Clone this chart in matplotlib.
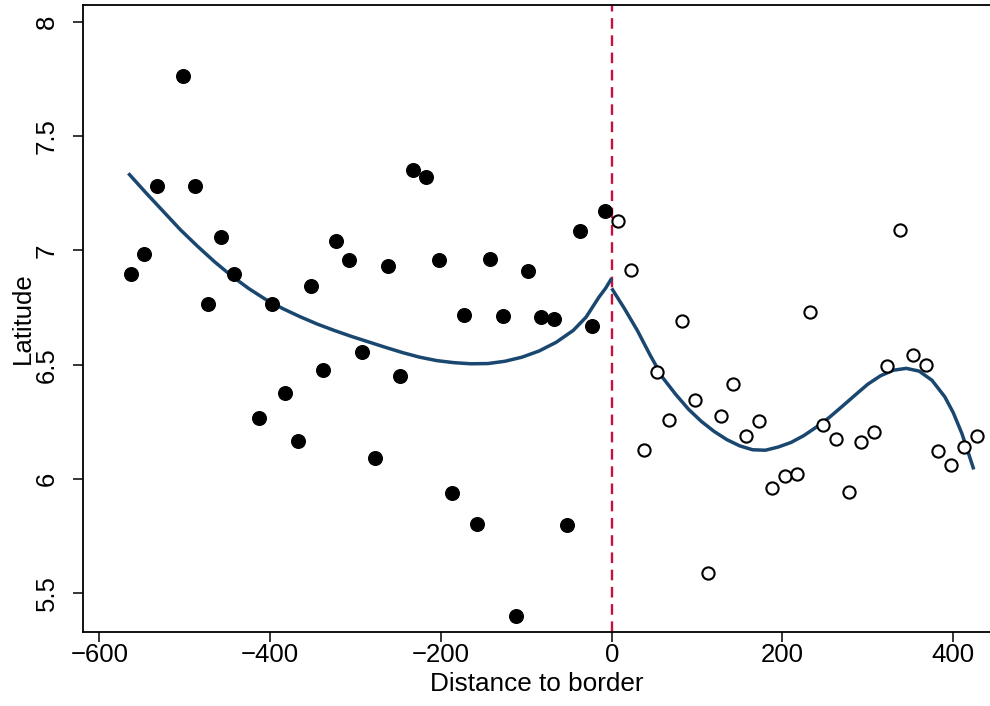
import numpy as np
import matplotlib
matplotlib.use("Agg")
import matplotlib.pyplot as plt

plt.rcParams['font.family'] = ['Liberation Sans', 'DejaVu Sans']

# ----------------------------------------------------------------------------------------- #
#                                           Data                                            #
# ----------------------------------------------------------------------------------------- #

# binned means left of the border (filled markers)
left_x = [-562.5, -547.5, -532.5, -502.5, -487.5, -472.5, -457.5, -442.5, -412.5,
          -397.5, -382.5, -367.5, -352.5, -337.5, -322.5, -307.5, -292.5, -277.5,
          -262.5, -247.5, -232.5, -217.5, -202.5, -187.5, -172.5, -157.5, -142.5,
          -127.5, -112.5, -97.5, -82.5, -67.5, -52.5, -37.5, -22.5, -7.5]
left_y = [6.895, 6.984, 7.283, 7.761, 7.283, 6.764, 7.057, 6.895, 6.269,
          6.764, 6.377, 6.167, 6.844, 6.476, 7.041, 6.956, 6.554, 6.090,
          6.933, 6.451, 7.351, 7.322, 6.956, 5.941, 6.716, 5.804, 6.961,
          6.713, 5.403, 6.909, 6.710, 6.698, 5.798, 7.086, 6.669, 7.173]

# binned means right of the border (hollow markers)
right_x = [7.5, 22.5, 37.5, 52.5, 67.5, 82.5, 97.5, 112.5, 127.5, 142.5,
           157.5, 172.5, 187.5, 202.5, 217.5, 232.5, 247.5, 262.5, 277.5, 292.5,
           307.5, 322.5, 337.5, 352.5, 367.5, 382.5, 397.5, 412.5, 427.5]
right_y = [7.129, 6.914, 6.126, 6.469, 6.258, 6.691, 6.345, 5.587, 6.275, 6.414,
           6.189, 6.253, 5.959, 6.013, 6.021, 6.729, 6.236, 6.175, 5.944, 6.163,
           6.204, 6.495, 7.089, 6.543, 6.498, 6.123, 6.061, 6.141, 6.189]

# fitted curves
fit_left_x = [-566, -545, -525, -505, -485, -465, -445, -425, -405, -385,
              -365, -345, -325, -305, -285, -265, -245, -225, -205, -185,
              -165, -145, -125, -105, -85, -65, -45, -30, -15, -7, 0]
fit_left_y = [7.337, 7.250, 7.170, 7.090, 7.018, 6.950, 6.888, 6.833, 6.785, 6.745,
              6.710, 6.678, 6.650, 6.624, 6.600, 6.576, 6.553, 6.533, 6.518, 6.509,
              6.504, 6.505, 6.515, 6.533, 6.560, 6.598, 6.650, 6.708, 6.795, 6.835, 6.878]
fit_right_x = [0, 15, 30, 45, 60, 75, 90, 105, 120, 135,
               150, 165, 180, 195, 210, 225, 240, 255, 270, 285,
               300, 315, 330, 345, 360, 375, 390, 400, 410, 418, 424]
fit_right_y = [6.834, 6.745, 6.650, 6.542, 6.442, 6.370, 6.305, 6.252, 6.208, 6.172,
               6.145, 6.128, 6.126, 6.140, 6.160, 6.190, 6.228, 6.270, 6.318, 6.367,
               6.415, 6.452, 6.476, 6.484, 6.472, 6.432, 6.360, 6.290, 6.200, 6.110, 6.042]

x_ticks = [-600, -400, -200, 0, 200, 400]
y_ticks = [5.5, 6, 6.5, 7, 7.5, 8]
y_tick_labels = ['5.5', '6', '6.5', '7', '7.5', '8']

# ----------------------------------------------------------------------------------------- #
#                                        Plotting                                           #
# ----------------------------------------------------------------------------------------- #

def plot_rd(save_path='out.png'):
    """Draw the border discontinuity scatter with fitted curves."""
    fig = plt.figure(figsize=(9.9, 7.06), dpi=100)
    ax = fig.add_axes([0.0835, 0.1048, 0.9165, 0.8881])

    navy = '#1a476f'
    ax.plot(fit_left_x, fit_left_y, color=navy, lw=2.5, solid_capstyle='butt',
            solid_joinstyle='round', zorder=3)
    ax.plot(fit_right_x, fit_right_y, color=navy, lw=2.5, solid_capstyle='butt',
            solid_joinstyle='round', zorder=3)

    ax.plot(left_x, left_y, 'o', color='black', ms=9.8, mec='black', zorder=4)
    ax.plot(right_x, right_y, 'o', mfc='white', mec='black', ms=8.8, mew=1.5, zorder=4)

    ax.axvline(0, color='#c8103e', lw=1.7, ls=(0, (4.5, 2.8)), zorder=2)

    ax.set_xlim(-619.5, 443)
    ax.set_ylim(5.331, 8.073)
    ax.set_xticks(x_ticks)
    ax.set_xticklabels([str(t).replace('-', '\u2212') for t in x_ticks])
    ax.set_yticks(y_ticks)
    ax.set_yticklabels(y_tick_labels, rotation=90, va='center')

    ax.tick_params(axis='both', labelsize=18.5, length=7.2, width=1.1, color='black')
    ax.tick_params(axis='x', pad=0.5)
    ax.tick_params(axis='y', pad=10)

    ax.set_xlabel('Distance to border', fontsize=18.8, labelpad=4)
    ax.set_ylabel('Latitude', fontsize=18.5, labelpad=0)

    ax.spines['right'].set_visible(False)
    for side in ['left', 'bottom', 'top']:
        ax.spines[side].set_linewidth(1.3)

    fig.savefig(save_path, dpi=100)


def main():
    plot_rd('out.png')


if __name__ == "__main__":
    main()
